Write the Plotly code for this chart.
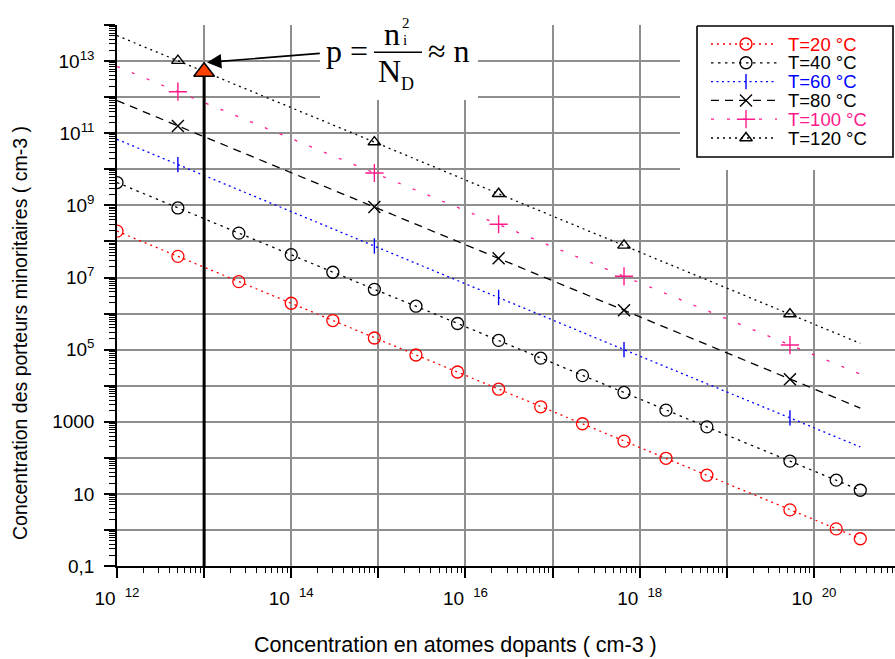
import plotly.graph_objects as go

# ---------------- data ----------------
N_dopant = [1e12, 5e12, 2.5e13, 1e14, 3e14, 9e14, 2.7e15, 8.1e15, 2.4e16,
            7.3e16, 2.2e17, 6.6e17, 2.0e18, 5.9e18, 5.3e19, 1.8e20, 3.4e20]
p_T20 = [1.93e8, 3.86e7, 7.7e6, 1.93e6, 6.4e5, 2.1e5, 7.1e4, 2.4e4, 8.0e3,
         2.6e3, 8.8e2, 2.9e2, 97, 33, 3.6, 1.07, 0.57]
p_T40 = [4.3e9, 8.5e8, 1.7e8, 4.3e7, 1.4e7, 4.7e6, 1.6e6, 5.3e5, 1.8e5,
         5.8e4, 1.9e4, 6.5e3, 2.1e3, 720, 81, 24, 12.6]

N_sparse = [1e12, 5e12, 9e14, 2.4e16, 6.6e17, 5.3e19, 3.4e20]
p_T60 = [6.8e10, 1.35e10, 7.5e7, 2.8e6, 1.0e5, 1.28e3, 200]
p_T80 = [8.1e11, 1.6e11, 9.0e8, 3.4e7, 1.23e6, 1.5e4, 2.4e3]
p_T100 = [7.1e12, 1.42e12, 7.9e9, 3.0e8, 1.08e7, 1.34e5, 2.1e4]
p_T120 = [5.1e13, 1.03e13, 5.7e10, 2.1e9, 7.8e7, 9.7e5, 1.5e5]

series_names = ["T=20 °C", "T=40 °C", "T=60 °C", "T=80 °C", "T=100 °C", "T=120 °C"]

# highlighted point  p = ni^2 / N_D  at N_D = 1e13 (T = 120 °C)
ND_point = 1e13
p_point = 5.1e12

NB = "\u00a0"
x_tick_vals = [1e12, 1e13, 1e14, 1e15, 1e16, 1e17, 1e18, 1e19, 1e20]
x_tick_text = ["10" + NB + "<sup>" + NB + "12</sup>", "",
               "10" + NB + "<sup>" + NB + "14</sup>", "",
               "10" + NB + "<sup>" + NB + "16</sup>", "",
               "10" + NB + "<sup>" + NB + "18</sup>", "",
               "10" + NB + "<sup>" + NB + "20</sup>"]
y_tick_vals = [1e-1, 1e0, 1e1, 1e2, 1e3, 1e4, 1e5, 1e6, 1e7, 1e8, 1e9, 1e10,
               1e11, 1e12, 1e13, 1e14]
y_tick_text = ["0,1", "", "10", "", "1000", "", "10<sup>5</sup>", "", "10<sup>7</sup>", "",
               "10<sup>9</sup>", "", "10<sup>11</sup>", "", "10<sup>13</sup>", ""]

# ---------------- styles ----------------
RED, BLACK, BLUE, PINK = "#ff0000", "#000000", "#0000ff", "#ff1a8c"
styles = [
    dict(color=RED, dash="2px,4px", symbol="circle-open", size=12),
    dict(color=BLACK, dash="2.5px,4.5px", symbol="circle-open", size=12),
    dict(color=BLUE, dash="2px,3.5px", symbol="line-ns-open", size=11),
    dict(color=BLACK, dash="8px,6px", symbol="x-thin-open", size=12),
    dict(color=PINK, dash="3px,13px", symbol="cross-thin-open", size=13),
    dict(color=BLACK, dash="2px,4px", symbol="triangle-up-open", size=11),
]
text_colors = [RED, BLACK, BLUE, BLACK, PINK, BLACK]

fig = go.Figure()

# full-marker series
for yvals, st in [(p_T20, styles[0]), (p_T40, styles[1])]:
    fig.add_trace(go.Scatter(
        x=N_dopant, y=yvals, mode="lines+markers",
        line=dict(color=st["color"], width=1.3, dash=st["dash"]),
        marker=dict(symbol=st["symbol"], size=st["size"], color=st["color"],
                    line=dict(width=1.3, color=st["color"])),
        showlegend=False, hoverinfo="skip"))

# sparse-marker series
for yvals, st in [(p_T60, styles[2]), (p_T80, styles[3]), (p_T100, styles[4]), (p_T120, styles[5])]:
    fig.add_trace(go.Scatter(
        x=N_sparse, y=yvals, mode="lines",
        line=dict(color=st["color"], width=1.3, dash=st["dash"]),
        showlegend=False, hoverinfo="skip"))
    fig.add_trace(go.Scatter(
        x=N_sparse[1:-1], y=yvals[1:-1], mode="markers",
        marker=dict(symbol=st["symbol"], size=st["size"], color=st["color"],
                    line=dict(width=1.4, color=st["color"])),
        showlegend=False, hoverinfo="skip"))

# vertical line at N_D = 1e13 and highlighted point
fig.add_trace(go.Scatter(x=[ND_point, ND_point], y=[1e-1, p_point], mode="lines",
                         line=dict(color="black", width=3), showlegend=False, hoverinfo="skip"))
fig.add_trace(go.Scatter(x=[ND_point], y=[p_point], mode="markers",
                         marker=dict(symbol="triangle-up", size=18, color="#ff4000",
                                     line=dict(width=1.5, color="black")),
                         showlegend=False, hoverinfo="skip"))

# ---------------- custom legend (subplot x2/y2 in pixel units) ----------------
L, T, W, H = 117, 25, 778, 541
FIGW, FIGH = 895, 659
leg_x0, leg_x1, leg_y0, leg_y1 = 697, 893, 26, 157
rows = [44, 62.8, 81.6, 100.4, 119.2, 138]

fig.add_trace(go.Scatter(x=[leg_x0, leg_x1, leg_x1, leg_x0, leg_x0],
                         y=[leg_y0, leg_y0, leg_y1, leg_y1, leg_y0],
                         mode="lines", fill="toself", fillcolor="white",
                         line=dict(color="black", width=1.6),
                         xaxis="x2", yaxis="y2", showlegend=False, hoverinfo="skip"))
for st, ry in zip(styles, rows):
    fig.add_trace(go.Scatter(x=[711, 777], y=[ry, ry], mode="lines",
                             line=dict(color=st["color"], width=1.3, dash=st["dash"]),
                             xaxis="x2", yaxis="y2", showlegend=False, hoverinfo="skip"))
    fig.add_trace(go.Scatter(x=[746], y=[ry], mode="markers",
                             marker=dict(symbol=st["symbol"], size=st["size"], color=st["color"],
                                         line=dict(width=1.4, color=st["color"])),
                             xaxis="x2", yaxis="y2", showlegend=False, hoverinfo="skip"))

def pxx(xp):
    return (xp - L) / W

def pxy(yp):
    return (T + H - yp) / H

annotations = []
for name, col, ry in zip(series_names, text_colors, rows):
    annotations.append(dict(x=786, y=ry, xref="x2", yref="y2", text=name, showarrow=False,
                            xanchor="left", yanchor="middle",
                            font=dict(family="Liberation Sans, Arial", size=18.5, color=col)))

# axis titles
annotations.append(dict(x=pxx(20), y=pxy(333), xref="paper", yref="paper",
                        text="Concentration des porteurs minoritaires ( cm-3 )",
                        textangle=-90, showarrow=False, xanchor="center", yanchor="middle",
                        font=dict(family="Liberation Sans, Arial", size=19.5, color="black")))
annotations.append(dict(x=pxx(455), y=pxy(645), xref="paper", yref="paper",
                        text="Concentration en atomes dopants ( cm-3 )",
                        showarrow=False, xanchor="center", yanchor="middle",
                        font=dict(family="Liberation Sans, Arial", size=21.5, color="black")))

# formula
serif = "Liberation Serif, Times New Roman, serif"
def ftxt(text, xp, yp, size, xanchor="center"):
    return dict(x=pxx(xp), y=pxy(yp), xref="paper", yref="paper", text=text, showarrow=False,
                xanchor=xanchor, yanchor="middle", font=dict(family=serif, size=size, color="black"))

annotations += [
    ftxt("p =", 324, 51, 32, "left"),
    ftxt("n", 392, 34, 32),
    ftxt("2", 406, 23, 15),
    ftxt("i", 405, 40, 15),
    ftxt("N", 389, 71, 32),
    ftxt("D", 407, 84, 18),
    ftxt("≈ n", 426, 51, 32, "left"),
]

# arrow pointing at the highlighted point
annotations.append(dict(x=13.033, y=12.964, xref="x", yref="y",
                        ax=14.362, ay=13.222, axref="x", ayref="y",
                        text=" ", showarrow=True, arrowhead=2, arrowsize=1.8,
                        arrowwidth=1.6, arrowcolor="black", standoff=0))

shapes = [
    dict(type="rect", xref="paper", yref="paper", x0=pxx(320), x1=pxx(478),
         y0=pxy(100), y1=pxy(18), fillcolor="white", line=dict(width=0), layer="above"),
    dict(type="line", xref="paper", yref="paper", x0=pxx(374), x1=pxx(422),
         y0=pxy(52.3), y1=pxy(52.3), line=dict(color="black", width=1.5), layer="above"),
]

minor_x = [m * 10.0 ** k for k in range(12, 21) for m in range(2, 10)]
minor_y = [m * 10.0 ** k for k in range(-1, 14) for m in range(2, 10)]

tickfont = dict(family="Liberation Sans, Arial", size=19, color="black")
fig.update_layout(
    width=FIGW, height=FIGH,
    margin=dict(l=L, r=FIGW - L - W, t=T, b=FIGH - T - H),
    paper_bgcolor="white", plot_bgcolor="white", showlegend=False,
    xaxis=dict(type="log", range=[12, 20.93], tickmode="array",
               tickvals=x_tick_vals, ticktext=x_tick_text,
               ticks="outside", ticklen=10, tickwidth=1.5, tickcolor="black",
               showline=True, linecolor="black", linewidth=1.5,
               showgrid=True, gridcolor="#8e8e8e", gridwidth=2.2, zeroline=False,
               tickfont=tickfont, ticklabelstandoff=4,
               minor=dict(tickmode="array", tickvals=minor_x, ticks="outside",
                          ticklen=5, tickwidth=1, tickcolor="black", showgrid=False)),
    yaxis=dict(type="log", range=[-1, 14.002], tickmode="array",
               tickvals=y_tick_vals, ticktext=y_tick_text,
               ticks="outside", ticklen=11, tickwidth=1.5, tickcolor="black",
               showline=True, linecolor="black", linewidth=1.5,
               showgrid=True, gridcolor="#8e8e8e", gridwidth=2.2, zeroline=False,
               tickfont=tickfont, ticklabelstandoff=6,
               minor=dict(tickmode="array", tickvals=minor_y, ticks="outside",
                          ticklen=6, tickwidth=1, tickcolor="black", showgrid=False)),
    xaxis2=dict(domain=[pxx(680), 1.0], range=[680, 895], visible=False,
                showgrid=False, zeroline=False, anchor="y2", fixedrange=True),
    yaxis2=dict(domain=[pxy(170), 1.0], range=[170, 25], visible=False,
                showgrid=False, zeroline=False, anchor="x2", fixedrange=True),
    annotations=annotations,
    shapes=shapes,
)

fig.write_html("out.html")
